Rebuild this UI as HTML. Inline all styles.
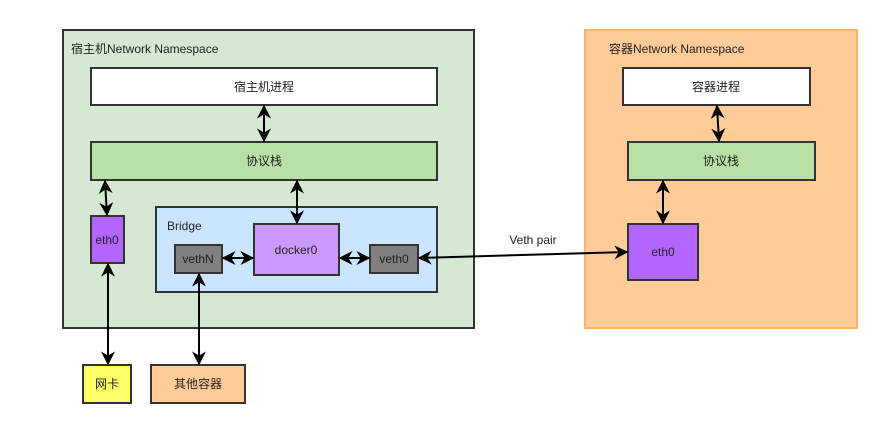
<!DOCTYPE html>
<html><head><meta charset="utf-8"><style>
html,body{margin:0;padding:0;background:#fff;width:887px;height:443px;overflow:hidden}
svg{display:block}
text{font-family:"Liberation Sans","Noto Sans CJK SC",sans-serif;font-size:12px;fill:#222}
</style></head><body>
<svg width="887" height="443" viewBox="0 0 887 443">
<defs>
<marker id="a" viewBox="0 0 10 10" refX="9" refY="5" markerWidth="7" markerHeight="7" orient="auto-start-reverse">
<path d="M0,0 L10,5 L0,10 L3,5 z" fill="#000"/></marker>
</defs>
<g stroke="#333" stroke-width="2">
<rect x="63" y="30" width="411" height="298" fill="#d5e8d4"/>
<rect x="585" y="30" width="272" height="298" fill="#ffcc99" stroke="#ffb366"/>
<rect x="91" y="68" width="346" height="37" fill="#fff"/>
<rect x="91" y="142" width="346" height="38" fill="#b9e0a5"/>
<rect x="156" y="207" width="281" height="85" fill="#cce5ff"/>
<rect x="91" y="216" width="33" height="47" fill="#b266ff"/>
<rect x="175" y="245" width="47" height="28" fill="#808080"/>
<rect x="254" y="224" width="85" height="51" fill="#cc99ff"/>
<rect x="370" y="245" width="48" height="28" fill="#808080"/>
<rect x="83" y="365" width="48" height="38" fill="#ffff66"/>
<rect x="151" y="365" width="94" height="38" fill="#ffcc99"/>
<rect x="623" y="68" width="187" height="37" fill="#fff"/>
<rect x="628" y="142" width="187" height="38" fill="#b9e0a5"/>
<rect x="628" y="224" width="70" height="56" fill="#b266ff"/>
</g>
<g stroke="#000" stroke-width="2" fill="none" marker-start="url(#a)" marker-end="url(#a)">
<line x1="264" y1="106" x2="264" y2="141"/>
<line x1="105" y1="181" x2="107" y2="215"/>
<line x1="297" y1="181" x2="297" y2="223"/>
<line x1="108" y1="264" x2="108" y2="364"/>
<line x1="199" y1="274" x2="199" y2="364"/>
<line x1="223" y1="258" x2="253" y2="258"/>
<line x1="340" y1="258" x2="369" y2="258"/>
<line x1="419" y1="258" x2="627" y2="252"/>
<line x1="717" y1="106" x2="719" y2="141"/>
<line x1="663" y1="181" x2="663" y2="223"/>
</g>
<text x="71" y="53">宿主机Network Namespace</text>
<text x="609" y="53">容器Network Namespace</text>
<text x="264" y="91" text-anchor="middle">宿主机进程</text>
<text x="264" y="165" text-anchor="middle">协议栈</text>
<text x="167" y="230">Bridge</text>
<text x="107" y="244" text-anchor="middle">eth0</text>
<text x="198" y="263" text-anchor="middle">vethN</text>
<text x="296" y="254" text-anchor="middle">docker0</text>
<text x="394" y="263" text-anchor="middle">veth0</text>
<text x="107" y="388" text-anchor="middle">网卡</text>
<text x="198" y="388" text-anchor="middle">其他容器</text>
<text x="533" y="244" text-anchor="middle">Veth pair</text>
<text x="716" y="91" text-anchor="middle">容器进程</text>
<text x="721" y="165" text-anchor="middle">协议栈</text>
<text x="663" y="256" text-anchor="middle">eth0</text>
</svg>
</body></html>
